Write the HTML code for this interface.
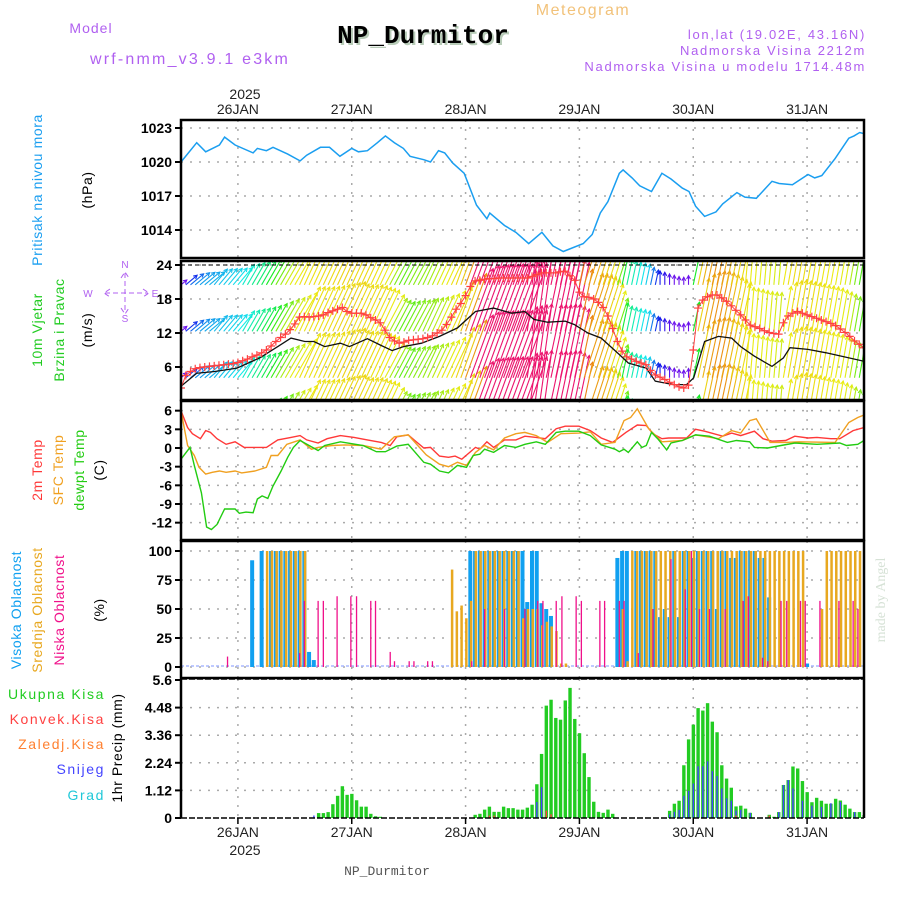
<!DOCTYPE html>
<html><head><meta charset="utf-8">
<style>
html,body{margin:0;padding:0;background:#fff;}
svg{display:block;font-family:"Liberation Sans",sans-serif;}
</style></head>
<body>
<svg id="c" width="900" height="900" viewBox="0 0 900 900" xmlns="http://www.w3.org/2000/svg">
<text x="583" y="15" font-size="16" fill="#f2c27a" text-anchor="middle" letter-spacing="1.5">Meteogram</text>
<text x="91" y="33" font-size="14" fill="#b060f0" text-anchor="middle" letter-spacing="1">Model</text>
<text x="190" y="64" font-size="16" fill="#b060f0" text-anchor="middle" letter-spacing="2.2">wrf-nmm_v3.9.1 e3km</text>
<text x="425" y="45" font-size="26" font-weight="bold" font-family="Liberation Mono, monospace" fill="#b8ccb8" text-anchor="middle">NP_Durmitor</text>
<text x="423" y="43" font-size="26" font-weight="bold" font-family="Liberation Mono, monospace" fill="#000" text-anchor="middle">NP_Durmitor</text>
<text x="866" y="39" font-size="13" fill="#b060f0" text-anchor="end" letter-spacing="1.7">lon,lat (19.02E, 43.16N)</text>
<text x="866" y="55" font-size="13" fill="#b060f0" text-anchor="end" letter-spacing="1.7">Nadmorska Visina 2212m</text>
<text x="866" y="71" font-size="13" fill="#b060f0" text-anchor="end" letter-spacing="1.7">Nadmorska Visina u modelu 1714.48m</text>
<text x="245" y="99" font-size="14" fill="#222" text-anchor="middle">2025</text>
<text x="387" y="875" font-size="13" font-family="Liberation Mono, monospace" fill="#555" text-anchor="middle">NP_Durmitor</text>
<text transform="translate(885,600) rotate(-90)" font-size="14" fill="#d6e2d6" text-anchor="middle" font-family="Liberation Serif, serif">made by Angel</text>
<text x="245" y="855" font-size="14" fill="#222" text-anchor="middle">2025</text>
<g id="g"></g>
</svg>
<script>
// ---------- data ----------
const dayLabels=["26JAN","27JAN","28JAN","29JAN","30JAN","31JAN"];
const dayHours=[12,36,60,84,108,132];
const pressHours=[0,3.3,5.2,8.1,9.2,11.4,15.2,16.1,18,19.4,22.5,25.1,26.5,29.4,31.3,33.5,36,37.4,39.3,41.4,43.1,45,46.9,48.3,51.2,52.6,54.3,55.6,57.3,59.7,62.3,64.5,65.1,68.2,70.6,73.3,76.1,78.4,80.6,84.8,86.7,88.4,90,92.4,93.2,95.1,96.7,99.2,101.4,103.3,105.7,107.1,108.5,110.4,112.8,114.2,117.2,118.9,121.3,124.6,126.1,128.9,132.2,133.6,135.1,137.9,140.8,141.9,143.1,144];
const pressVals=[1020.0,1021.7,1020.9,1021.5,1022.2,1021.5,1020.8,1021.2,1021.0,1021.3,1020.7,1020.1,1020.6,1021.3,1021.3,1020.5,1021.2,1020.9,1021.0,1021.7,1022.3,1021.7,1021.2,1020.5,1020.2,1020.0,1021.0,1020.8,1019.9,1019.0,1016.2,1015.0,1015.5,1014.4,1013.8,1012.8,1013.8,1012.6,1012.1,1012.8,1013.6,1015.5,1016.5,1019.0,1019.3,1018.6,1017.9,1017.4,1019.0,1018.5,1017.7,1017.4,1016.1,1015.2,1015.6,1016.3,1017.3,1016.9,1016.8,1018.3,1018.1,1018.0,1018.9,1018.6,1018.8,1020.3,1022.1,1022.3,1022.6,1022.5];
const pressTicks=[1023,1020,1017,1014];
const windSpeed=[2.3,4.5,5.2,5.7,5.9,6.0,6.1,6.2,6.3,6.4,6.5,6.6,6.8,7.1,7.4,7.8,8.1,8.5,9.0,9.7,10.5,11.2,11.8,12.6,13.6,14.8,14.9,14.8,14.9,15.0,15.2,15.6,15.9,16.2,16.5,15.8,15.5,15.5,15.5,15.2,14.7,14.3,13.8,12.5,11.2,10.6,10.2,10.4,10.7,10.8,10.9,11.0,11.2,11.5,12.0,12.5,13.5,14.8,16.2,17.2,18.6,20.2,21.2,21.3,21.5,21.6,21.6,21.7,21.7,21.7,21.7,21.7,21.7,21.7,22.0,22.3,22.6,22.6,22.6,22.6,22.8,22.9,22.1,21.3,19.2,18.4,18.3,18.0,17.4,16.5,15.0,12.8,10.5,8.8,7.8,7.4,7.0,6.7,6.4,5.4,4.6,4.2,3.8,3.3,2.9,2.5,2.3,2.8,9.0,16.4,17.8,18.4,18.7,18.7,18.2,17.6,16.8,16.0,15.2,14.3,13.4,13.1,12.8,12.4,12.1,11.9,11.8,13.8,15.0,15.5,15.8,15.5,15.2,14.9,14.6,14.3,14.0,13.7,13.3,12.7,12.1,11.4,10.6,10.0,9.4];
const windDir=[50,50,50,50,50,50,50,40,40,40,40,40,40,30,30,30,30,30,30,30,30,30,30,30,30,25,25,25,25,25,25,25,25,25,25,25,25,25,25,25,25,25,25,28,28,28,28,28,28,28,28,25,25,25,25,25,25,25,20,20,20,20,20,20,20,20,20,20,20,20,20,20,20,8,8,8,8,12,12,12,12,12,12,12,12,18,18,18,18,18,18,18,18,12,12,12,12,12,12,12,12,0,0,0,0,0,0,0,12,12,12,12,12,12,12,12,12,12,12,5,5,5,5,5,5,5,5,10,10,10,10,10,10,10,10,10,10,10,10,10,10,10,10,10,10];
const gustHours=[0,3.3,7.1,11.8,16.6,20.4,23.2,26.1,28,30.3,33.6,35.5,39.3,42.2,44.5,46.9,50.7,54.5,58.3,62.1,65.9,69.7,72.5,74.4,77.3,81,82.9,85.8,88.6,92.4,94.3,98.1,100,103.8,106.6,108.1,110.4,113.3,116.1,118,120.9,124.6,127,128.4,132.2,136,144];
const gustVals=[2.6,4.9,5.2,5.8,7.6,9.6,11.1,10.5,10.5,9.6,10.2,9.6,11.0,9.8,8.9,9.6,10.2,11.4,12.9,15.8,16.4,15.5,15.8,14.4,13.9,14.1,13.5,12.0,11.1,8.2,6.7,5.8,3.5,2.9,2.9,4.1,10.5,11.4,11.1,9.6,7.9,6.1,7.6,9.4,9.1,8.5,7.0];
const windTicks=[24,18,12,6];
const t2Hours=[0,1.4,2.4,4.1,5.2,6.2,7.6,9.5,11.4,13.3,18,20.4,23.2,25.1,26.5,28.9,30.8,33.6,36.5,39.3,42.2,44.1,45.5,47.9,49.3,51.2,52.6,54.5,56.4,57.8,59.2,62.1,63,64.5,65.9,68.2,70.6,72.5,74.9,76.8,79.1,81,83.9,86.3,88.6,91,93.8,96.2,98.1,99.5,101.4,102.8,106.6,108.5,110.4,114.2,116.1,118,120.9,122.7,124.6,127.5,129.4,132.2,134.1,137,138.9,141.7,144];
const t2Vals=[6.0,3.3,2.3,1.5,2.8,2.5,1.5,0.6,1.0,0.1,0.1,1.3,1.7,2.0,1.3,0.8,1.5,2.0,1.7,1.3,0.9,0.4,1.8,2.1,1.2,0,0.1,-1.3,-1.5,-1.3,-1.8,0.1,-0.2,1.0,0.1,1.3,1.3,1.9,1.7,1.5,3.1,3.5,3.5,2.8,1.6,0.9,2.5,3.7,3.6,2.3,1.5,1.6,1.6,3.0,2.7,1.9,2.4,2.0,2.7,1.5,1.1,1.2,1.9,1.6,1.7,1.5,1.5,2.8,3.3];
const sfcHours=[0,1.4,2.8,3.8,5.2,6.6,8.1,9.5,11.4,12.8,15.6,18,19,20.4,22.3,25.1,27.5,28.9,31.8,34.6,38.4,42.2,45,47.9,51.7,54.5,56.4,58.3,60.2,62.1,64,65.9,68.2,70.6,72.5,74.9,77.3,80.1,83.9,86.3,88.6,91.5,93.4,94.8,96.2,98.6,101.4,105.7,108.5,113.3,116.1,118,119.9,121.3,124.2,127.5,130.3,137.9,140.8,142.7,144];
const sfcVals=[6.0,0.4,-1.2,-3.1,-4.2,-3.9,-3.7,-3.9,-3.7,-4.0,-3.7,-3.1,-1.2,-1.2,0.6,1.3,-0.2,0.1,0.4,0.5,0.4,-0.2,1.8,2.1,-1.1,-2.6,-3.0,-2.3,-2.8,-0.7,0.4,-0.3,1.6,2.3,2.5,2.0,0.9,2.3,2.4,2.6,0.6,0.9,4.4,4.9,6.3,3.1,1.0,1.2,2.1,1.5,2.8,2.4,4.4,4.7,0.9,0.9,1.0,0.9,4.1,4.9,5.3];
const dewHours=[0,1.9,2.8,4.3,5.4,6.4,7.6,9.2,11.4,12.3,13.7,15.2,16.1,17.1,18.3,19.4,21.1,22.5,23.7,25.1,27,28.9,30.3,33.6,38.4,41.2,43.1,45.5,47.9,51.2,52.6,54.5,56.4,58.3,60.2,61.6,63,64,65.9,68.2,70.6,72.5,74.9,76.8,79.1,81,83.9,86.3,88.6,91.5,92.4,93.4,94.3,96.2,97.2,98.1,99.2,100.5,102.4,103.3,105.7,108.5,111.4,115.2,117.1,119.9,120.9,123.7,126.5,129.4,134.1,138.9,140.3,142.7,144];
const dewVals=[-1.8,0.1,-2.8,-7.2,-12.7,-13.1,-12.3,-9.8,-9.8,-10.5,-10.3,-10.4,-8.2,-7.7,-8.1,-6.1,-3.7,-1.5,0.1,1.2,0.4,-0.4,0.4,1.0,0.4,-0.6,-0.6,0.3,0.6,-2.3,-2.6,-3.7,-4.0,-2.8,-3.1,-1.2,-1.0,-0.2,-0.7,0.4,0.1,0.6,1.0,0.6,2.5,2.7,2.7,2.0,0.5,-0.2,-0.6,-0.2,-0.7,1.0,0.1,0.4,2.5,1.5,-0.3,0.8,1.2,2.1,1.9,0.9,1.2,1.0,0.1,0.0,0.4,0.8,0.6,0.8,0.4,0.6,1.2];
const tempTicks=[6,3,0,-3,-6,-9,-12];
const highHours=[15,17,19,20,21,22,23,24,25,26,27,28,61,62,63,64,65,66,67,68,69,70,71,72,73,74,75,76,77,78,92,93,94,96,97,98,99,100,101,102,103,104,105,106,107,108,109,110,111,112,113,114,115,116,117,118,119,120,121,122,123,124,132];
const highVals=[92,100,100,100,100,100,100,100,100,100,13,6,100,100,100,100,100,100,100,100,100,100,100,100,56,100,100,55,50,44,94,100,100,100,100,100,100,100,43,50,43,100,43,100,100,94,100,100,100,100,50,100,100,94,94,100,100,100,100,94,94,60,3];
const midHours=[18,19,20,21,22,23,24,25,26,57,58,59,60,61,62,63,64,65,66,67,68,69,70,71,72,73,74,75,76,77,78,79,80,81,93,94,95,96,97,98,99,100,101,102,103,104,105,106,107,108,109,110,111,112,113,114,115,116,117,118,119,120,121,122,123,124,125,126,127,128,129,130,131,135,136,137,138,139,140,141,142,143];
const midVals=[100,100,100,100,100,100,100,100,100,84,48,53,42,57,100,100,100,100,100,100,100,100,100,100,42,50,50,50,36,39,35,31,3,3,50,5,100,100,100,100,100,100,100,100,100,100,100,100,100,100,100,100,100,100,100,100,100,100,100,100,100,100,100,100,100,100,100,100,100,100,100,100,100,50,100,100,100,100,100,100,100,100];
const lowHours=[9.8,25,26,28.9,30,32.9,35.8,37,40,41,44.1,45,48.1,49.1,52,53,61.3,64,68.2,72.5,75.2,76.3,79.1,80.3,83.3,84.4,88.3,89.3,92.4,93.4,96.4,99.5,103.3,106.3,107.6,109.3,111.4,114.7,118.5,119.6,122.6,123.7,126.5,127.7,130.6,131.6,134.7,138.7,141.7,142.7];
const lowVals=[9,12,57,57,57,61,61,61,57,57,13,5,5,5,5,5,5,50,50,50,57,57,57,61,61,57,57,57,57,57,12,50,93,67,100,50,50,50,57,61,8,5,57,57,57,57,57,57,57,50];
const cloudTicks=[100,75,50,25,0];
const rainHours=[29,30,31,32,33,34,35,36,37,38,39,40,41,42,62,63,64,65,66,67,68,69,70,71,72,73,74,75,76,77,78,79,80,81,82,83,84,85,86,87,88,89,90,91,103,104,105,106,107,108,109,110,111,112,113,114,115,116,117,118,119,120,124,125,126,127,128,129,130,131,132,133,134,135,136,137,138,139,140,141,142,143,144];
const rainVals=[0.2,0.2,0.24,0.56,0.9,1.29,0.94,0.98,0.72,0.46,0.46,0.17,0.07,0.05,0.13,0.17,0.34,0.46,0.25,0.25,0.46,0.4,0.4,0.34,0.34,0.42,0.54,1.37,2.6,4.56,4.8,4.06,3.99,4.77,5.28,4.02,3.44,2.63,1.66,0.66,0.25,0.21,0.34,0.17,0.29,0.58,0.7,2.14,3.19,3.79,4.46,4.36,4.66,3.91,3.48,2.14,1.6,1.23,0.47,0.5,0.38,0.21,0.13,0.05,0.24,1.34,1.54,2.09,2.01,1.5,1.05,0.64,0.82,0.7,0.58,0.58,0.78,0.71,0.54,0.38,0.24,0.24,0.12];
const snowHours=[28,75,76,103,104,105,106,107,108,109,110,111,112,113,114,115,116,117,118,120,126,127,128,129,131,133,135,137,139,142,144];
const snowVals=[0.1,0.65,1.25,0.15,0.25,0.33,0.9,1.1,1.4,2.1,2.1,2.3,1.9,1.7,1.2,0.8,0.7,0.3,0.33,0.21,0.24,1.34,1.54,1.2,0.7,0.5,0.45,0.6,0.65,0.24,0.12];
const convHours=[65,66,77,78,117,124];
const convVals=[0.1,0.1,0.3,0.15,0.1,0.1];
const precipTicks=[5.6,4.48,3.36,2.24,1.12,0];

// ---------- helpers ----------
const NS="http://www.w3.org/2000/svg";
const G=document.getElementById('g');
function mk(tag,attrs,parent,txt){const e=document.createElementNS(NS,tag);for(const k in attrs)e.setAttribute(k,attrs[k]);if(txt!==undefined)e.textContent=txt;(parent||G).appendChild(e);return e;}
const X0=181,X1=864,HMAX=144;
const xs=h=>X0+h*(X1-X0)/HMAX;
const P={press:[120,258],wind:[261,400],temp:[401,540],cloud:[541,678],prec:[679,818]};
const yP=v=>128+(1023-v)*(102/9);
const yW=v=>401-v*(102/18);
const yT=v=>448-v*(112/18);
const yC=v=>667-v*1.16;
const yR=v=>818-v*(138/5.6);

const defs=mk('defs',{});
for(const k in P){const cp=mk('clipPath',{id:'clip-'+k},defs);mk('rect',{x:X0,y:P[k][0],width:X1-X0,height:P[k][1]-P[k][0]},cp);}

function panelFrame(key,ticks,yf,fmt,name){
  const [t,b]=P[key];
  const grp=mk('g',{});
  
  
  ticks.forEach(v=>{const y=yf(v);
    if(y>t+2&&y<b-2){const l=mk('line',{x1:X0,x2:X1,y1:y,y2:y,stroke:'#aaa','stroke-width':1.5,'stroke-dasharray':'2,7'},grp);
      }
    const tk=mk('line',{x1:X0-6,x2:X0,y1:y,y2:y,stroke:'#000','stroke-width':2});
    
    const tx=mk('text',{x:X0-9,y:y+5,'font-size':14,'font-weight':'bold','text-anchor':'end',fill:'#000'},G,fmt(v));
    
  });
  dayHours.forEach(h=>{const l=mk('line',{x1:xs(h),x2:xs(h),y1:t,y2:b,stroke:'#aaa','stroke-width':1.5,'stroke-dasharray':'2,7'},grp);
    });
}
function border(key,name){const [t,b]=P[key];
  const r=mk('rect',{x:X0,y:t,width:X1-X0,height:b-t,fill:'none',stroke:'#000','stroke-width':2.5});
  }
function line(hs,vs,yf,color,key,name,w){
  const d=hs.map((h,i)=>(i?'L':'M')+xs(h).toFixed(1)+','+yf(vs[i]).toFixed(1)).join('');
  const p=mk('path',{d:d,fill:'none',stroke:color,'stroke-width':w||1.4,'clip-path':'url(#clip-'+key+')'});
  return p;}
function vtext(x,y,txt,color,name,size){const t=mk('text',{transform:`translate(${x},${y}) rotate(-90)`,'font-size':size||14,fill:color,'text-anchor':'middle','letter-spacing':'0.6'},G,txt);
  }

// ---------- pressure ----------
panelFrame('press',pressTicks,yP,v=>v,'pressure');
line(pressHours,pressVals,yP,'#1a9ef0','press','pressure-line',1.5);
vtext(42,190,'Pritisak na nivou mora','#1a9ef0','pressure-title');
vtext(92,190,'(hPa)','#000','pressure-unit');

// ---------- wind ----------
panelFrame('wind',windTicks,yW,v=>v,'wind');
function windColor(s){let hue;
  if(s<3)hue=265;else if(s<6)hue=265-(s-3)*22;else if(s<9)hue=199-(s-6)*25;else if(s<12)hue=124-(s-9)*20;else if(s<17)hue=64-(s-12)*2.5;else if(s<20)hue=52-(s-17)*10;else hue=335;
  return `hsl(${(hue+360)%360},85%,50%)`;}
const wg=mk('g',{'clip-path':'url(#clip-wind)'});


const bases=[20.5,12.3,4.1,-4.1];
windSpeed.forEach((s,i)=>{
  const a=windDir[i]*Math.PI/180,L=s*3.3,col=windColor(s),x=xs(i);
  bases.forEach(bv=>{const y=yW(bv);const x2=x+L*Math.sin(a),y2=y-L*Math.cos(a);
    const ln=mk('line',{x1:x,y1:y,x2:x2,y2:y2,stroke:col,'stroke-width':1.1},wg);
    
    
    const hx1=x2-4*Math.sin(a-0.5),hy1=y2+4*Math.cos(a-0.5),hx2=x2-4*Math.sin(a+0.5),hy2=y2+4*Math.cos(a+0.5);
    mk('path',{d:`M${hx1},${hy1}L${x2},${y2}L${hx2},${hy2}`,fill:'none',stroke:col,'stroke-width':1.1},wg);
  });
});
const dl=mk('line',{x1:X0,x2:X1,y1:yW(24),y2:yW(24),stroke:'#000','stroke-dasharray':'4,3','stroke-width':1});

line(gustHours,gustVals,yW,'#111','wind','wind-speed-black-line',1.3);
line(windSpeed.map((v,i)=>i),windSpeed,yW,'#ff4040','wind','wind-speed-red-line',1);
const cg=mk('g',{'clip-path':'url(#clip-wind)'});


windSpeed.forEach((v,i)=>{const x=xs(i),y=yW(v);
  mk('path',{d:`M${x-4},${y}H${x+4}M${x},${y-4}V${y+4}`,stroke:'#ff4040','stroke-width':1.2},cg);});
vtext(42,330,'10m Vjetar','#22cc22','wind-title-1');
vtext(64,330,'Brzina i Pravac','#22cc22','wind-title-2');
vtext(92,330,'(m/s)','#000','wind-unit');
const comp=mk('g',{fill:'#b060f0','font-size':10,'text-anchor':'middle'});

mk('text',{x:125,y:268},comp,'N');mk('text',{x:125,y:322},comp,'S');
mk('text',{x:88,y:297},comp,'W');mk('text',{x:155,y:297},comp,'E');
mk('path',{d:'M105,293H148M125,273V313M110,289L104,293L110,297M143,289L149,293L143,297M121,278L125,272L129,278M121,308L125,314L129,308',stroke:'#b060f0',fill:'none','stroke-dasharray':'5,3','stroke-width':1},comp);

// ---------- temperature ----------
panelFrame('temp',tempTicks,yT,v=>v,'temp');
line(t2Hours,t2Vals,yT,'#ff3838','temp','temp-2m-line',1.4);
line(sfcHours,sfcVals,yT,'#f0a020','temp','temp-sfc-line',1.4);
line(dewHours,dewVals,yT,'#22cc11','temp','dewpoint-line',1.4);
vtext(42,470,'2m Temp','#ff3838','temp-2m-title');
vtext(63,470,'SFC Temp','#f0a020','temp-sfc-title');
vtext(84,470,'dewpt Temp','#22cc11','dewpoint-title');
vtext(104,470,'(C)','#000','temp-unit');

// ---------- clouds ----------
panelFrame('cloud',cloudTicks,yC,v=>v,'cloud');
const clg=mk('g',{'clip-path':'url(#clip-cloud)'});


mk('line',{x1:X0,x2:X1,y1:yC(0)-1,y2:yC(0)-1,stroke:'#aab8ff','stroke-width':1.5,'stroke-dasharray':'3,2'},clg);
highHours.forEach((h,i)=>{const y=yC(highVals[i]);const r=mk('rect',{x:xs(h)-2,y:y,width:4,height:yC(0)-y,fill:'#10a0f0'},clg);
  });
midHours.forEach((h,i)=>{const y=yC(midVals[i]);const r=mk('rect',{x:xs(h)-0.5,y:y,width:2.5,height:yC(0)-y,fill:'#e8a820'},clg);
  });
lowHours.forEach((h,i)=>{const y=yC(lowVals[i]);const r=mk('rect',{x:xs(h)-0.6,y:y,width:1.3,height:yC(0)-y,fill:'#f0108a'},clg);
  });
vtext(21,610,'Visoka Oblacnost','#10a0f0','high-cloud-title');
vtext(42,610,'Srednja Oblacnost','#e8a820','mid-cloud-title');
vtext(64,610,'Niska Oblacnost','#f0108a','low-cloud-title');
vtext(104,610,'(%)','#000','cloud-unit');

// ---------- precipitation ----------
panelFrame('prec',precipTicks,yR,v=>v,'precip');
const pg=mk('g',{'clip-path':'url(#clip-prec)'});


rainHours.forEach((h,i)=>{const y=yR(rainVals[i]);const r=mk('rect',{x:xs(h)-1.6,y:y,width:3.4,height:yR(0)-y,fill:'#22cc22'},pg);
  });
snowHours.forEach((h,i)=>{const y=yR(snowVals[i]);const r=mk('rect',{x:xs(h)-0.6,y:y,width:1.4,height:yR(0)-y,fill:'#4444ff'},pg);
  });
convHours.forEach((h,i)=>{const y=yR(convVals[i]);const r=mk('rect',{x:xs(h)-0.6,y:y,width:1.4,height:yR(0)-y,fill:'#ff4040'},pg);
  });
const legend=[['Ukupna Kisa','#22cc22',699],['Konvek.Kisa','#ff4040',724],['Zaledj.Kisa','#ff8030',749],['Snijeg','#4444ff',774],['Grad','#20c8d8',800]];
legend.forEach(l=>{const t=mk('text',{x:105,y:l[2],'font-size':14,fill:l[1],'text-anchor':'end','letter-spacing':'1.6'},G,l[0]);
  });
vtext(122,748,'1hr Precip (mm)','#000','precip-unit');

border('press','pressure');border('wind','wind');border('temp','temp');border('cloud','cloud');
const pf=mk('g',{});


mk('line',{x1:X0,x2:X1,y1:P.prec[0],y2:P.prec[0],stroke:'#000','stroke-width':1.5,'stroke-dasharray':'6,2'},pf);
mk('line',{x1:X0,x2:X1,y1:P.prec[1],y2:P.prec[1],stroke:'#000','stroke-width':1.5,'stroke-dasharray':'6,2'},pf);
mk('line',{x1:X0,x2:X0,y1:P.prec[0],y2:P.prec[1],stroke:'#000','stroke-width':2.5},pf);
mk('line',{x1:X1,x2:X1,y1:P.prec[0],y2:P.prec[1],stroke:'#000','stroke-width':2.5},pf);

dayHours.forEach((h,i)=>{
  const t1=mk('text',{x:xs(h),y:114,'font-size':14,fill:'#222','text-anchor':'middle'},G,dayLabels[i]);
  
  const t2=mk('text',{x:xs(h),y:837,'font-size':14,fill:'#222','text-anchor':'middle'},G,dayLabels[i]);
  
  const tk=mk('line',{x1:xs(h),x2:xs(h),y1:818,y2:824,stroke:'#000','stroke-width':1.5});
  
});
</script>
</body></html>
